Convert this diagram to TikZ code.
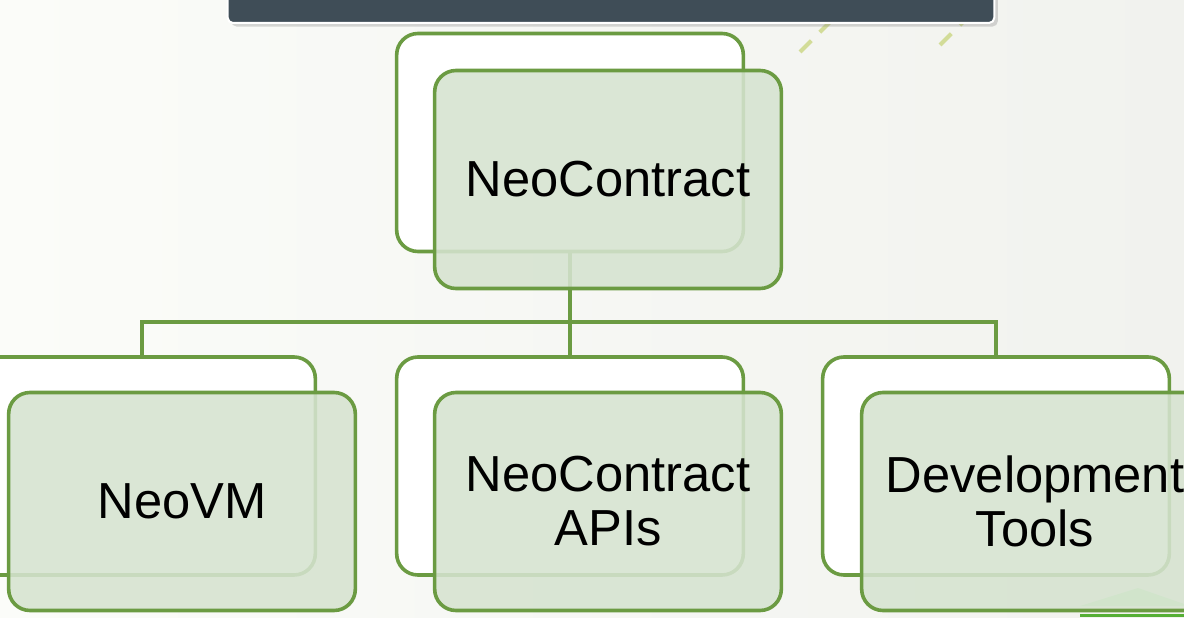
\documentclass[tikz,border=0pt]{standalone}
\usepackage{fontspec}
\setmainfont{Liberation Sans}
\usetikzlibrary{shadows}
\definecolor{boxgreen}{HTML}{6B9B42}
\definecolor{frontfill}{HTML}{D6E3D0}
\definecolor{barcol}{HTML}{3F4D57}
\definecolor{dashcol}{HTML}{D2DC98}
\definecolor{bgleft}{HTML}{FBFCF9}
\definecolor{bgright}{HTML}{F1F2EE}
\tikzset{
  backbox/.style={draw=boxgreen, line width=2.7pt, fill=white, rounded corners=16pt,
    minimum width=260pt, minimum height=163.5pt, inner sep=0pt},
  frontbox/.style={draw=boxgreen, line width=2.7pt, fill=frontfill, fill opacity=0.88,
    text opacity=1, rounded corners=16pt,
    minimum width=260pt, minimum height=163.5pt, inner sep=0pt, align=center,
    font=\fontsize{38}{40.5}\selectfont},
  conn/.style={draw=boxgreen, line width=2.6pt},
  deco/.style={draw=dashcol, line width=3pt, dash pattern=on 12pt off 9pt},
}
\begin{document}
\begin{tikzpicture}[x=0.75pt,y=-0.75pt]
\useasboundingbox (0,0) rectangle (1184,617);
\shade[left color=bgleft, right color=bgright] (0,0) rectangle (1184,617);
% decorative dashed lines
\draw[deco] (800,52) -- (860,-8);
\draw[deco] (940,45) -- (995,-10);
% top bar
\node[draw=white, line width=1.5pt, fill=barcol, rounded corners=4pt, drop shadow={opacity=0.3},
  minimum width=575pt, minimum height=30pt, inner sep=0pt] (bar) at (611,3) {};
% bottom right decoration
\fill[green!30!frontfill, opacity=0.7] (1080,606) -- (1138,588) -- (1190,606) -- cycle;
\fill[boxgreen!80!green] (1080,614) rectangle (1184,617);
% back boxes
\node[backbox] (pb) at (570,142.5) {};
\node[backbox] (c1b) at (142,466) {};
\node[backbox] (c2b) at (570,466) {};
\node[backbox] (c3b) at (996,466) {};
% connectors
\coordinate (bus) at (570,322);
\draw[conn] (pb.south) -- (bus);
\draw[conn] (bus) -| (c1b.north);
\draw[conn] (bus) -- (c2b.north);
\draw[conn] (bus) -| (c3b.north);
% front boxes
\node[frontbox] (pf) at (608,179.5) {NeoContract};
\node[frontbox] (c1f) at (182,501.5) {NeoVM};
\node[frontbox] (c2f) at (608,501.5) {NeoContract\\APIs};
\node[frontbox] (c3f) at (1035,501.5) {Development\\Tools};
\end{tikzpicture}
\end{document}
